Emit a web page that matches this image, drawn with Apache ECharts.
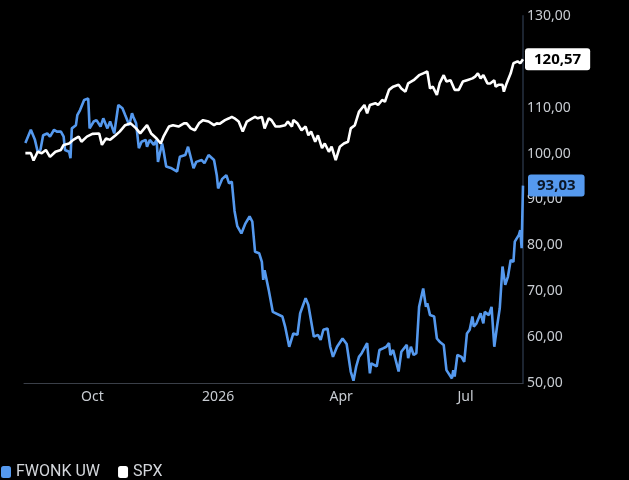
<!DOCTYPE html>
<html><head><meta charset="utf-8">
<script src="https://cdn.jsdelivr.net/npm/echarts@6/dist/echarts.min.js"></script>
<style>html,body{margin:0;padding:0;background:#000;}#c{width:629px;height:480px;}</style>
</head><body><div id="c"></div>
<script>
// Range of the time axis
const startDate = '2025-08-12';
const endDate = '2026-08-12';
// X tick labels
const xTickDates = ['2025-10-01', '2026-01-01', '2026-04-01', '2026-07-01'];
const xTickLabels = ['Oct', '2026', 'Apr', 'Jul'];
// Y axis
const yMin = 50, yMax = 130, yStep = 10;

// FWONK UW: days after startDate and values
const fwonkDays = [1,5,8,10,12,14,17,19,22,24,27,29,30,33,34,35,38,39,41,44,47,48,51,53,56,58,61,63,66,69,72,74,77,79,80,82,84,86,89,90,92,95,97,98,101,102,104,108,112,114,118,120,124,126,130,132,135,139,141,142,145,148,150,152,154,156,159,162,165,167,169,172,174,175,176,179,182,189,191,194,197,200,202,206,208,212,215,217,219,222,224,226,229,233,236,239,241,243,245,247,251,253,254,258,260,263,265,267,268,270,274,276,280,281,283,285,287,289,292,294,295,297,300,302,304,307,309,313,314,315,317,320,322,324,326,328,329,331,334,336,337,340,342,344,346,348,350,352,354,356,358,359,362,363,364,365];
const fwonkValues = [102.3,105.2,103,100.4,100.8,104,104.4,103.7,105.2,104.8,104.8,103.7,100.8,100.4,99,105.5,106.2,108.4,109.5,111.7,112,105.5,107,107.3,105.9,107.7,105.5,107,104.4,110.6,109.9,108.4,106.2,108.8,108,106.6,101.2,102.6,103,101.5,103,101.9,103,98.2,102.2,100.8,97.2,96.8,96.1,99.3,99.7,101.5,96.8,98.2,98.6,97.9,99.7,98.6,95.3,92.4,94.5,95.3,93.5,93.9,87.5,84.2,82.6,84.8,86.3,85.2,78.6,78.3,76.4,72.5,74.6,70.3,65.5,64.5,62.3,57.9,60.8,60.5,65.2,68.5,67,60.1,60.5,59.4,61.6,61.9,57.9,55.7,57.9,59.7,58.5,52.5,50.5,53.6,55.7,56.5,58.7,52.1,54.3,53.6,57.2,57.6,57.9,58.7,56.1,57.2,52.5,56.8,58.3,55.4,57.9,56.1,56.5,66.6,70.6,66.6,67.4,64.8,64.5,59.7,59,58.3,52.8,51,52.8,51.4,56.1,55.7,54.6,60.8,61.6,64.5,62.3,63,65.2,63,65.5,64.8,66.6,57.9,62.3,66.3,75.4,71.4,73.2,76.8,76.4,80.8,82.3,83.3,79.4,93.03];

// SPX: days after startDate and values
const spxDays = [1,5,7,10,13,16,19,23,27,29,33,36,40,42,46,50,55,57,60,63,67,70,74,78,82,85,90,93,97,100,102,106,109,113,117,119,122,125,128,131,135,139,141,143,147,150,152,154,157,160,163,167,169,171,174,176,179,181,184,187,191,193,196,197,200,203,206,208,210,213,215,218,220,223,225,228,229,231,234,237,239,242,245,249,251,253,257,259,262,264,267,270,274,276,279,281,285,289,292,295,297,299,302,304,307,309,312,315,318,321,324,328,330,332,334,336,339,341,344,345,347,350,351,353,356,358,361,363,365];
const spxValues = [100.1,100.1,98.5,100.4,100.1,100.8,99.3,100.4,100.8,101.9,102.2,103,103.7,102.6,103.7,104.3,104.4,101.9,103.3,103,104,104.8,106.2,106.6,105.5,104.4,106.2,104.4,103.3,102.2,103.7,105.9,106.2,105.9,106.6,106.6,105.5,105.1,106.6,107.3,107,106.2,106.6,106.5,107.3,107.7,108,107.7,107,104.8,107,107.7,108,107.7,108,105.5,107.7,107.3,105.9,105.9,106.2,107,105.9,107.3,106.6,105.1,105.9,104,104.8,102.6,104,101.2,102.2,100.4,101.5,98.6,98.2,101.5,102.2,102.6,105.5,106.2,109.1,110.6,108.8,110.6,111,110.6,111.7,111.3,113.9,114.6,115,114.2,113.5,115.3,116,117.1,117.5,117.9,114.2,114.6,112.8,115.3,117.1,115.7,116,113.9,113.9,115.7,116,116.4,116.8,117.5,116.4,117.1,115.3,115.3,116,114.6,115,115,113.5,115.3,117.5,119.7,120.1,119.7,120.57];

const DAY = 86400000;
const t0 = Date.parse(startDate + 'T00:00:00Z');
const dayOf = s => Math.round((Date.parse(s + 'T00:00:00Z') - t0) / DAY);
const toPairs = (days, vals) => days.map((d, i) => [d, vals[i]]);
const tickDays = xTickDates.map(dayOf);
const fmt = v => v.toFixed(2).replace('.', ',');

const chart = echarts.init(document.getElementById('c'), null, {renderer: 'canvas'});
chart.setOption({
  backgroundColor: '#000000',
  animation: false,
  textStyle: {fontFamily: 'Noto Sans'},
  grid: {left: 24, right: 106, top: 16, bottom: 97},
  legend: {
    left: 1, top: 464, padding: 0,
    icon: 'roundRect', itemWidth: 10, itemHeight: 12, itemGap: 18,
    textStyle: {color: '#d4d7dc', fontSize: 16, fontFamily: 'Roboto'},
    data: ['FWONK UW', 'SPX']
  },
  xAxis: {
    type: 'value',
    min: 0,
    max: dayOf(endDate),
    axisLine: {show: true, onZero: false, lineStyle: {color: '#3a3f48', width: 1}},
    axisTick: {show: false},
    splitLine: {show: false},
    axisLabel: {
      customValues: tickDays,
      color: '#c8ccd2', fontSize: 14, margin: 7,
      formatter: function (val) {
        const i = tickDays.indexOf(Math.round(val));
        return i >= 0 ? xTickLabels[i] : '';
      }
    }
  },
  yAxis: {
    type: 'value',
    position: 'right',
    min: yMin, max: yMax, interval: yStep,
    axisLine: {show: true, onZero: false, lineStyle: {color: '#1c2430', width: 2}},
    axisTick: {show: false},
    splitLine: {show: false},
    axisLabel: {color: '#c8ccd2', fontSize: 14, margin: 4, formatter: v => fmt(v)}
  },
  series: [
    {
      name: 'FWONK UW', type: 'line', showSymbol: false,
      data: toPairs(fwonkDays, fwonkValues),
      color: '#5599ee',
      lineStyle: {width: 2.6, color: '#5599ee'},
      endLabel: {
        show: true, distance: 5,
        formatter: p => fmt(p.value[1]),
        backgroundColor: '#5599ee', color: '#0b1626',
        fontWeight: 'bold', fontSize: 15, padding: [4, 9, 3, 9], borderRadius: 3
      }
    },
    {
      name: 'SPX', type: 'line', showSymbol: false,
      data: toPairs(spxDays, spxValues),
      color: '#ffffff',
      lineStyle: {width: 2.6, color: '#ffffff'},
      endLabel: {
        show: true, distance: 2,
        formatter: p => fmt(p.value[1]),
        backgroundColor: '#ffffff', color: '#000000',
        fontWeight: 'bold', fontSize: 15, padding: [4, 9, 3, 9], borderRadius: 3
      }
    }
  ]
});
</script>
</body></html>
